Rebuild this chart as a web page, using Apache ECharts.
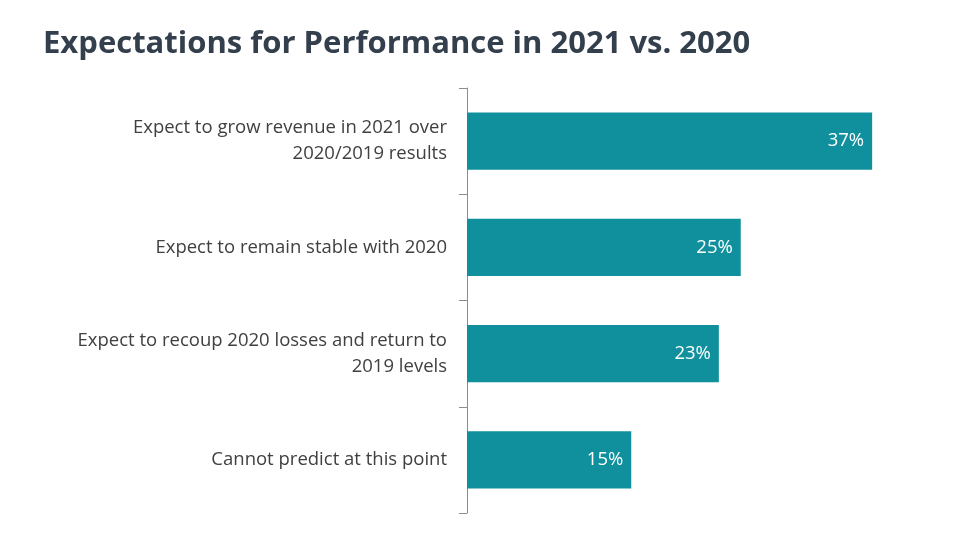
<!DOCTYPE html>
<html><head><meta charset="utf-8">
<script src="https://cdn.jsdelivr.net/npm/echarts@6/dist/echarts.min.js"></script>
<style>html,body{margin:0;padding:0;background:#fff}#c{width:960px;height:540px}</style>
</head><body><div id="c"></div>
<script>
const titleText = 'Expectations for Performance in 2021 vs. 2020';
const categories = [
  'Expect to grow revenue in 2021 over\n2020/2019 results',
  'Expect to remain stable with 2020',
  'Expect to recoup 2020 losses and return to\n2019 levels',
  'Cannot predict at this point'
];
const values = [37, 25, 23, 15];

const chart = echarts.init(document.getElementById('c'));
chart.setOption({
  animation: false,
  title: {
    text: titleText, left: 38, top: 24,
    textStyle: { fontFamily: 'Open Sans', fontWeight: 'bold', fontSize: 31, color: '#333f4c' }
  },
  grid: { left: 467, top: 88, height: 425, width: 438 },
  xAxis: { type: 'value', min: 0, max: 40, show: false },
  yAxis: {
    type: 'category', data: categories, inverse: true,
    axisLine: { show: true, lineStyle: { color: '#8c8c8c', width: 1 } },
    axisTick: { show: true, length: 8, lineStyle: { color: '#8c8c8c' } },
    axisLabel: { margin: 20, fontFamily: 'Open Sans', fontSize: 18.5, color: '#404040', lineHeight: 26, align: 'right' }
  },
  series: [{
    type: 'bar', data: values, barCategoryGap: '46%',
    itemStyle: { color: '#10909c' },
    label: { show: true, position: 'insideRight', offset: [-3, 0], formatter: '{c}%', color: '#fff', fontFamily: 'Open Sans', fontSize: 18.5 }
  }]
});
</script></body></html>
